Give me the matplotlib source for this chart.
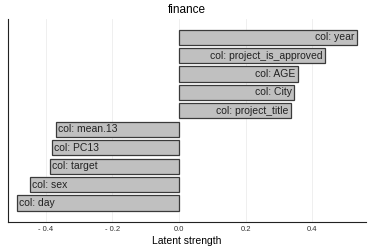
import matplotlib
matplotlib.use("Agg")
import matplotlib.pyplot as plt

plt.rcParams['font.family'] = ['Liberation Sans', 'DejaVu Sans']

labels = ["col: day", "col: sex", "col: target", "col: PC13", "col: mean.13",
          "col: project_title", "col: City", "col: AGE", "col: project_is_approved", "col: year"]
values = [-0.485, -0.447, -0.387, -0.382, -0.370, 0.335, 0.346, 0.356, 0.438, 0.533]
xticks = [-0.4, -0.2, 0.0, 0.2, 0.4]
xticklabels = ["- 0.4", "- 0.2", "0.0", "0.2", "0.4"]

fig = plt.figure(figsize=(3.74, 2.49), dpi=100)
ax = fig.add_axes([8/374, 27/249, 358/374, 203/249])
pos = list(range(len(values)))
ax.barh(pos, values, height=0.82, color="#c0c0c0", edgecolor="#3a3a3a", linewidth=0.9, zorder=3)
for p, v, l in zip(pos, values, labels):
    if v >= 0:
        ax.text(v - 0.006, p, l, ha="right", va="center", fontsize=7.5, color="#222222", zorder=4)
    else:
        ax.text(v + 0.006, p, l, ha="left", va="center", fontsize=7.5, color="#222222", zorder=4)

ax.set_xlim(-0.513, 0.561)
ax.set_ylim(-1.03, 9.98)
ax.set_xticks(xticks)
ax.set_xticklabels(xticklabels, fontsize=5.5, color="#333333")
ax.set_yticks([])
ax.tick_params(axis="x", length=0, pad=3)
ax.grid(axis="x", color="#ececec", linewidth=0.6, zorder=0)
for s in ["top", "right"]:
    ax.spines[s].set_visible(False)
ax.spines["left"].set_color("#222222")
ax.spines["bottom"].set_color("#222222")
ax.spines["left"].set_linewidth(0.8)
ax.spines["bottom"].set_linewidth(0.8)
ax.set_xlabel("Latent strength", fontsize=7.5, labelpad=2)
ax.set_title("finance", fontsize=8.5, pad=4)
fig.savefig("out.png", dpi=100)
